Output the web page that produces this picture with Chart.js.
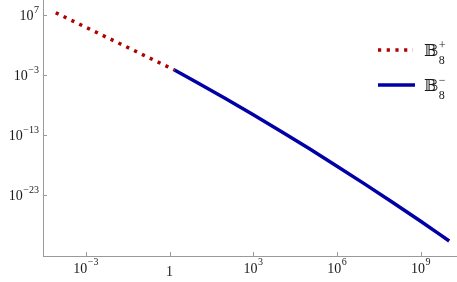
<!DOCTYPE html>
<html>
<head>
<meta charset="utf-8">
<script src="https://cdn.jsdelivr.net/npm/chart.js@4/dist/chart.umd.min.js"></script>
<style>
  html, body { margin: 0; padding: 0; background: #fff; }
  #wrap { width: 457px; height: 282px; position: relative; }
</style>
</head>
<body>
<div id="wrap"><canvas id="chart"></canvas></div>
<script>
// values (log-log)
const plusX = [8.3e-5, 1.0e-2, 1.5];
const plusY = [2.4e7, 5.2e2, 6.8e-3];
const minusX = [1.5, 10, 100, 1e3, 1e4, 1e5, 1e6, 1e7, 1e8, 1e9, 1.05e10];
const minusY = [6.8e-3, 5.1e-5, 1.2e-7, 2.3e-10, 3.8e-13, 5.4e-16, 6.3e-19, 6.5e-22, 5.6e-25, 4.2e-28, 2.2e-31];

const xTicks = [1e-3, 1, 1e3, 1e6, 1e9];
const xTickLabels = [['10', '\u22123'], ['1', ''], ['10', '3'], ['10', '6'], ['10', '9']];
const yTicks = [1e7, 1e-3, 1e-13, 1e-23];
const yTickLabels = [['10', '7'], ['10', '\u22123'], ['10', '\u221213'], ['10', '\u221223']];

const seriesNames = ['\uD835\uDD39', '\uD835\uDD39'];
const seriesSub = ['8', '8'];
const seriesSup = ['+', '\u2212'];

const RED = '#b00000';
const BLUE = '#0000a6';
const AXIS = '#999999';
const TEXT = '#1a1a1a';
const SERIF = '"Liberation Serif", "DejaVu Serif", serif';

function pts(xs, ys){
    return xs.map((x, i) => ({x: x, y: ys[i]}));
}

const axisLabels = {
    id: 'axisLabels',
    afterDraw(chart){
        const ctx = chart.ctx;
        const xs = chart.scales.x, ys = chart.scales.y;
        const area = chart.chartArea;
        ctx.save();
        // inward tick marks
        ctx.strokeStyle = AXIS;
        ctx.lineWidth = 1;
        ctx.beginPath();
        xTicks.forEach(v => {
            const px = Math.round(xs.getPixelForValue(v)) + 0.5;
            ctx.moveTo(px, area.bottom);
            ctx.lineTo(px, area.bottom - 4);
        });
        yTicks.forEach(v => {
            const py = Math.round(ys.getPixelForValue(v)) + 0.5;
            ctx.moveTo(area.left, py);
            ctx.lineTo(area.left + 4, py);
        });
        ctx.stroke();

        ctx.fillStyle = TEXT;
        ctx.textBaseline = 'alphabetic';
        ctx.textAlign = 'left';
        // x labels
        xTicks.forEach((v, i) => {
            const [b, e] = xTickLabels[i];
            const px = xs.getPixelForValue(v);
            ctx.font = '14px ' + SERIF;
            const wb = ctx.measureText(b).width;
            ctx.font = '10px ' + SERIF;
            const we = e ? ctx.measureText(e).width + 0.5 : 0;
            const x0 = px - (wb + we) / 2;
            const base = e ? area.bottom + 16.5 : area.bottom + 20;
            ctx.font = '14px ' + SERIF;
            ctx.fillText(b, x0, base);
            if (e){
                ctx.font = '10px ' + SERIF;
                ctx.fillText(e, x0 + wb + 0.5, base - 8);
            }
        });
        // y labels
        yTicks.forEach((v, i) => {
            const [b, e] = yTickLabels[i];
            const py = ys.getPixelForValue(v);
            ctx.font = '14px ' + SERIF;
            const wb = ctx.measureText(b).width;
            ctx.font = '10px ' + SERIF;
            const we = ctx.measureText(e).width + 0.5;
            const x0 = area.left - 4 - wb - we;
            const base = py + 4.5;
            ctx.font = '14px ' + SERIF;
            ctx.fillText(b, x0, base);
            ctx.font = '10px ' + SERIF;
            ctx.fillText(e, x0 + wb + 0.5, base - 7);
        });

        // legend
        const items = [
            {color: RED, dash: [3.2, 5.5], y: 50, x2: 413},
            {color: BLUE, dash: [], y: 85, x2: 415}
        ];
        items.forEach((it, i) => {
            ctx.strokeStyle = it.color;
            ctx.lineWidth = 3.5;
            ctx.lineCap = 'butt';
            ctx.setLineDash(it.dash);
            ctx.beginPath();
            ctx.moveTo(378, it.y);
            ctx.lineTo(it.x2, it.y);
            ctx.stroke();
            ctx.setLineDash([]);
            ctx.fillStyle = TEXT;
            ctx.font = '17px ' + SERIF;
            ctx.fillText(seriesNames[i], 424, it.y + 5.7);
            const wn = ctx.measureText(seriesNames[i]).width;
            ctx.font = '12px ' + SERIF;
            ctx.fillText(seriesSub[i], 424 + wn + 0.5, it.y + 14);
            ctx.fillText(seriesSup[i], 424 + wn + 0.5, it.y - 1);
        });
        ctx.restore();
    }
};

new Chart(document.getElementById('chart').getContext('2d'), {
    type: 'line',
    data: {
        datasets: [
            {
                label: 'B8-',
                data: pts(minusX, minusY),
                borderColor: BLUE,
                borderWidth: 3.5,
                pointRadius: 0,
                cubicInterpolationMode: 'monotone',
                fill: false
            },
            {
                label: 'B8+',
                data: pts(plusX, plusY),
                borderColor: RED,
                borderWidth: 3.5,
                borderDash: [3.2, 5.5],
                borderCapStyle: 'butt',
                pointRadius: 0,
                fill: false
            }
        ]
    },
    options: {
        responsive: true,
        maintainAspectRatio: false,
        animation: false,
        layout: { padding: 0 },
        plugins: {
            legend: { display: false },
            tooltip: { enabled: false }
        },
        scales: {
            x: {
                type: 'logarithmic',
                min: 2.9e-5,
                max: 2.0e10,
                afterBuildTicks: s => { s.ticks = xTicks.map(v => ({value: v})); },
                afterFit: s => { s.height = 26; },
                ticks: { display: false },
                grid: { display: false },
                border: { display: true, color: AXIS, width: 1 }
            },
            y: {
                type: 'logarithmic',
                min: 6.8e-34,
                max: 3.2e9,
                afterBuildTicks: s => { s.ticks = yTicks.map(v => ({value: v})); },
                afterFit: s => { s.width = 43; },
                ticks: { display: false },
                grid: { display: false },
                border: { display: true, color: AXIS, width: 1 }
            }
        }
    },
    plugins: [axisLabels]
});
</script>
</body>
</html>
